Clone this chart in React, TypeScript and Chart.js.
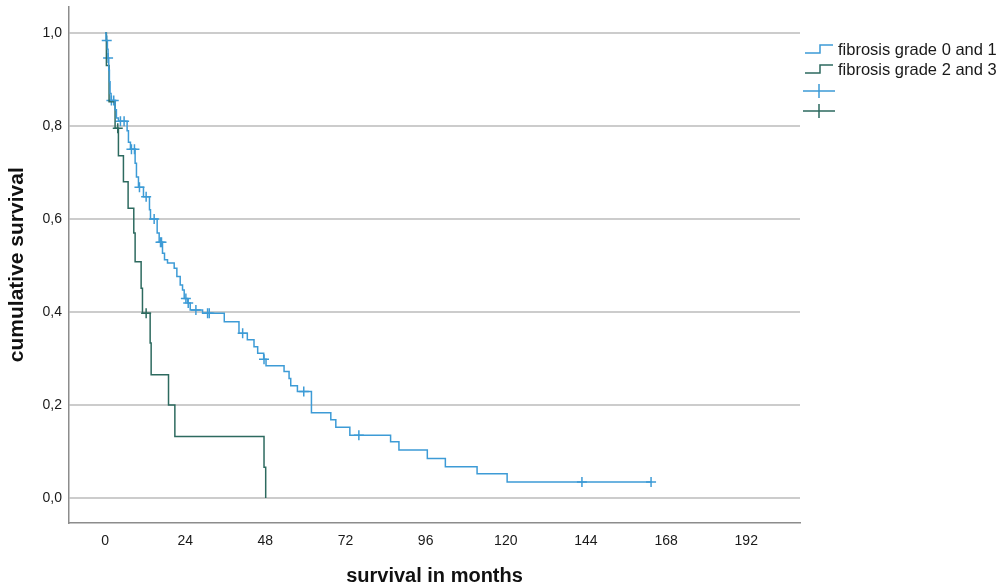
import { useEffect, useRef } from 'react'
import { Chart, registerables } from 'chart.js'

Chart.register(...registerables)

const seriesNames = ['fibrosis grade 0 and 1', 'fibrosis grade 2 and 3']
const xTicks = [0, 24, 48, 72, 96, 120, 144, 168, 192]
const yTicks = [0, 0.2, 0.4, 0.6, 0.8, 1.0]

// Kaplan-Meier steps: time of event (months) -> survival right after it
const grade01Months = [
  0, 0.3, 0.7, 0.9, 1.1, 1.3, 1.5, 1.8, 3.0, 3.4, 4.0, 6.6, 7.0, 7.6, 9.0, 9.4, 10.0, 11.5, 13.3, 13.6,
  15.6, 16.2, 17.2, 17.8, 18.7, 20.7, 21.5, 22.5, 23.2, 23.7, 24.7, 25.5, 29.2, 35.7, 40.1, 42.6, 44.6,
  45.7, 47.5, 48.2, 53.6, 55.1, 55.6, 57.6, 61.8, 67.6, 69.1, 73.3, 85.5, 88.0, 96.5, 101.9, 111.4,
  120.4, 163.5,
]
const grade01Survival = [
  1.0, 0.984, 0.965, 0.946, 0.92, 0.895, 0.87, 0.855, 0.835, 0.817, 0.81, 0.79, 0.765, 0.75, 0.72, 0.69,
  0.668, 0.648, 0.62, 0.6, 0.57, 0.55, 0.526, 0.512, 0.505, 0.494, 0.476, 0.458, 0.447, 0.429, 0.419,
  0.404, 0.397, 0.379, 0.354, 0.34, 0.325, 0.311, 0.298, 0.284, 0.272, 0.257, 0.241, 0.229, 0.183,
  0.168, 0.152, 0.135, 0.121, 0.103, 0.085, 0.067, 0.052, 0.034, 0.034,
]
const grade01Censored = [
  0.5, 0.9, 1.9, 2.6, 4.6, 5.7, 7.9, 8.8, 10.3, 12.3, 14.7, 16.6, 16.9, 24.2, 24.9, 27.2, 30.7, 31.2,
  41.2, 47.6, 59.5, 76.0, 142.8, 163.5,
]

const grade23Months = [0, 0.4, 1.2, 3.0, 4.0, 5.5, 6.9, 8.6, 9.0, 10.8, 11.2, 13.5, 13.8, 19.0, 20.9, 47.6, 48.1]
const grade23Survival = [
  1.0, 0.93, 0.852, 0.795, 0.736, 0.68, 0.623, 0.57, 0.508, 0.451, 0.397, 0.333, 0.265, 0.2, 0.132, 0.066, 0,
]
const grade23Censored = [3.8, 12.3]

const BLUE = '#3d9bd6'
const GREEN = '#2d6a5f'
const FONT = '"Liberation Sans", Arial, sans-serif'

function survivalAt(months: number[], surv: number[], t: number) {
  let s = surv[0]
  for (let i = 0; i < months.length; i++) if (months[i] <= t) s = surv[i]
  return s
}

const legendPlugin = {
  id: 'kmLegend',
  afterDraw(chart: Chart) {
    const ctx = chart.ctx
    const x0 = chart.chartArea.right + 5
    ctx.save()
    ctx.lineWidth = 1.5
    ctx.font = `16.5px ${FONT}`
    ctx.textBaseline = 'middle'
    ;[BLUE, GREEN].forEach((c, i) => {
      const y = 49 + i * 20
      ctx.strokeStyle = c
      ctx.beginPath()
      ctx.moveTo(x0, y + 4)
      ctx.lineTo(x0 + 15, y + 4)
      ctx.lineTo(x0 + 15, y - 4)
      ctx.lineTo(x0 + 28, y - 4)
      ctx.stroke()
      ctx.fillStyle = '#1a1a1a'
      ctx.fillText(seriesNames[i], x0 + 33, y + 1)
    })
    ;[BLUE, GREEN].forEach((c, i) => {
      const y = 91 + i * 20
      ctx.strokeStyle = c
      ctx.beginPath()
      ctx.moveTo(x0 - 2, y)
      ctx.lineTo(x0 + 30, y)
      ctx.moveTo(x0 + 14, y - 7)
      ctx.lineTo(x0 + 14, y + 7)
      ctx.stroke()
    })
    ctx.restore()
  },
}

export default function App() {
  const canvasRef = useRef<HTMLCanvasElement>(null)
  const chartRef = useRef<Chart | null>(null)

  useEffect(() => {
    if (!canvasRef.current) return
    if (chartRef.current) chartRef.current.destroy()

    const steps = (months: number[], surv: number[]) => months.map((t, i) => ({ x: t, y: surv[i] }))
    const marks = (cens: number[], months: number[], surv: number[]) =>
      cens.map((t) => ({ x: t, y: survivalAt(months, surv, t) }))

    const lineStyle = { borderWidth: 1.5, stepped: true as const, pointRadius: 0, fill: false, tension: 0 }
    const crossStyle = { showLine: false, pointStyle: 'cross' as const, pointRadius: 5, pointBorderWidth: 1.5 }

    chartRef.current = new Chart(canvasRef.current, {
      type: 'line',
      data: {
        datasets: [
          { label: seriesNames[0], data: steps(grade01Months, grade01Survival), borderColor: BLUE, ...lineStyle },
          { label: seriesNames[1], data: steps(grade23Months, grade23Survival), borderColor: GREEN, ...lineStyle },
          {
            label: '',
            data: marks(grade01Censored, grade01Months, grade01Survival),
            borderColor: BLUE,
            pointBorderColor: BLUE,
            ...crossStyle,
          },
          {
            label: '',
            data: marks(grade23Censored, grade23Months, grade23Survival),
            borderColor: GREEN,
            pointBorderColor: GREEN,
            ...crossStyle,
          },
        ],
      },
      options: {
        animation: false,
        responsive: true,
        maintainAspectRatio: false,
        layout: { padding: { top: 5, right: 202, left: 0, bottom: 0 } },
        plugins: { legend: { display: false }, tooltip: { enabled: false } },
        scales: {
          x: {
            type: 'linear',
            min: -10.8,
            max: 208.1,
            afterBuildTicks: (s) => { s.ticks = xTicks.map((v) => ({ value: v })) },
            afterFit: (s) => {
              s.height = 63
              s.paddingLeft = 0
              s.paddingRight = 0
            },
            grid: { color: 'rgba(0,0,0,0)', drawTicks: false },
            border: { color: '#8c8c8c', width: 1.5 },
            ticks: { padding: 10, color: '#1a1a1a', font: { family: FONT, size: 14 }, maxRotation: 0, autoSkip: false },
            title: {
              display: true,
              text: 'survival in months',
              color: '#111',
              font: { family: FONT, size: 20, weight: 'bold', lineHeight: 1 },
              padding: 0,
            },
          },
          y: {
            min: -0.054,
            max: 1.057,
            afterBuildTicks: (s) => { s.ticks = yTicks.map((v) => ({ value: v })) },
            afterFit: (s) => {
              s.width = 69
              s.paddingTop = 0
              s.paddingBottom = 0
            },
            grid: { color: '#cccccc', lineWidth: 2, drawTicks: false },
            border: { color: '#8c8c8c', width: 1.5 },
            ticks: {
              padding: 7,
              color: '#1a1a1a',
              font: { family: FONT, size: 14 },
              callback: (v) => Number(v).toFixed(1).replace('.', ','),
            },
            title: {
              display: true,
              text: 'cumulative survival',
              color: '#111',
              font: { family: FONT, size: 21, weight: 'bold' },
              padding: { top: 5, bottom: 0 },
            },
          },
        },
      },
      plugins: [legendPlugin],
    })

    return () => { chartRef.current?.destroy() }
  }, [])

  return (
    <div style={{ position: 'fixed', left: 0, top: 0, width: 1002, height: 586, background: '#fff' }}>
      <canvas ref={canvasRef} />
    </div>
  )
}
